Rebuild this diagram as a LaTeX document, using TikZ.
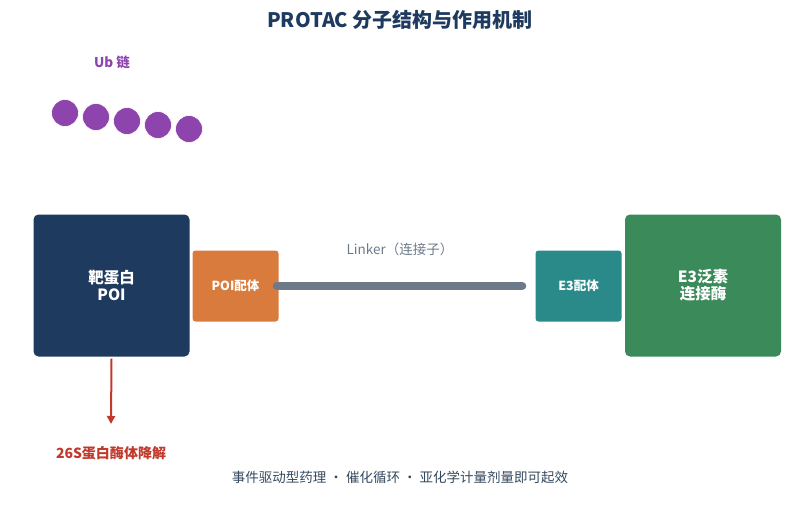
\documentclass[tikz,border=0pt]{standalone}
\usepackage{fontspec}
\setmainfont{Noto Sans CJK SC}
\usetikzlibrary{arrows.meta}
\definecolor{navy}{HTML}{1F3A5F}
\definecolor{ubpurple}{HTML}{8E44AD}
\definecolor{ligorange}{HTML}{D97B3C}
\definecolor{ligteal}{HTML}{2A8A8A}
\definecolor{e3green}{HTML}{3A8A5A}
\definecolor{linkgray}{HTML}{6C7A89}
\definecolor{degred}{HTML}{C0392B}
\definecolor{foottext}{HTML}{34495E}
\begin{document}
\begin{tikzpicture}[x=1pt,y=-1pt,
  bigbox/.style={draw=none,rounded corners=5pt,inner sep=0pt,text=white,font=\bfseries\fontsize{15.5}{17}\selectfont,align=center},
  ligbox/.style={draw=none,rounded corners=3pt,inner sep=0pt,text=white,font=\bfseries\fontsize{12.5}{15}\selectfont,align=center},
  ub/.style={circle,fill=ubpurple,draw=white,line width=0.6pt,minimum size=27pt,inner sep=0pt}]
\useasboundingbox (0,0) rectangle (799,516);
\node[font=\bfseries\fontsize{20}{24}\selectfont,text=navy] (title) at (400,20) {PROTAC 分子结构与作用机制};
\node[font=\bfseries\fontsize{13.5}{16}\selectfont,text=ubpurple] (ublab) at (112,62) {Ub 链};
\node[ub] (u1) at (65,113) {};
\node[ub] (u2) at (96,117) {};
\node[ub] (u3) at (127,121) {};
\node[ub] (u4) at (158,125) {};
\node[ub] (u5) at (189,129) {};
\node[bigbox,fill=navy,minimum width=156pt,minimum height=142pt] (poi) at (111.5,285.5) {靶蛋白\\POI};
\node[ligbox,fill=ligorange,minimum width=86pt,minimum height=71pt] (poil) at (235.5,286) {POI配体};
\node[ligbox,fill=ligteal,minimum width=86pt,minimum height=71pt] (e3l) at (578.5,286) {E3配体};
\node[bigbox,fill=e3green,minimum width=156pt,minimum height=142pt] (e3) at (703,285.5) {E3泛素\\连接酶};
\draw[linkgray,line width=8pt,line cap=round] ([xshift=-2pt]poil.east) -- ([xshift=-13pt]e3l.west);
\node[font=\fontsize{13.5}{16}\selectfont,text=linkgray] (linklab) at (400,249) {Linker（连接子）};
\node[font=\bfseries\fontsize{14}{16}\selectfont,text=degred] (deg) at (111,453) {26S蛋白酶体降解};
\coordinate (arrend) at (111,424);
\draw[degred,line width=2pt,-{Triangle[length=8pt,width=8pt]}] ([yshift=-2pt]poi.south) -- (arrend);
\node[font=\fontsize{13.5}{16}\selectfont,text=foottext] (foot) at (400,477) {事件驱动型药理 · 催化循环 · 亚化学计量剂量即可起效};
\end{tikzpicture}
\end{document}
